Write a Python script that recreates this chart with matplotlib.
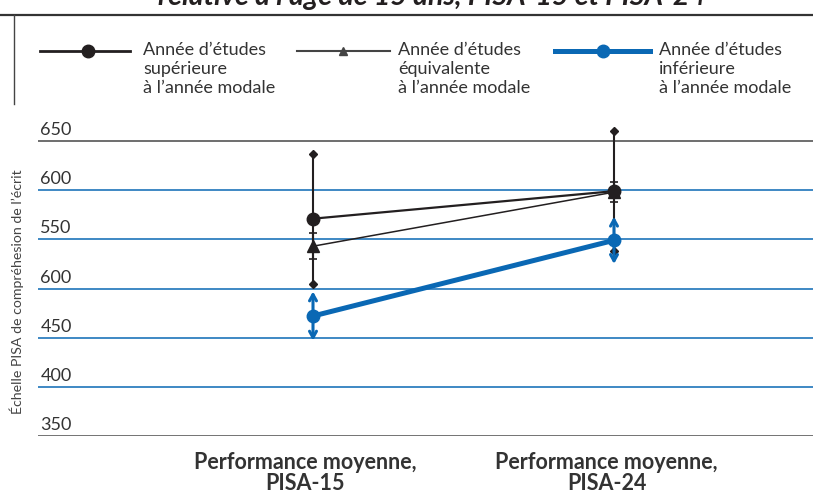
import matplotlib
matplotlib.use("Agg")
import matplotlib.pyplot as plt
from matplotlib.lines import Line2D
import matplotlib.transforms as mtransforms

# ---- data ----
categories = ["Performance moyenne,\nPISA-15", "Performance moyenne,\nPISA-24"]
sup_vals = [571, 599]
sup_err = [66, 61]
equ_vals = [543, 598]
equ_err = [13, 10]
inf_vals = [472, 549]
inf_err = [25, 24]
ytick_values = [650, 600, 550, 500, 450, 400, 350]
ytick_labels = ["650", "600", "550", "600", "450", "400", "350"]
legend_labels = ["Année d’études\nsupérieure\nà l’année modale",
                 "Année d’études\néquivalente\nà l’année modale",
                 "Année d’études\ninférieure\nà l’année modale"]
title = "relative à l’âge de 15 ans, PISA-15 et PISA-24"
ylabel = "Échelle PISA de compréhesion de l’écrit"

FONT = ["Lato", "DejaVu Sans"]
plt.rcParams["font.family"] = FONT
BLUE = "#0a68b4"
BLACK = "#231f20"
TXT = "#333333"

W, H = 813, 494
fig = plt.figure(figsize=(W / 100, H / 100), dpi=100)

# axes geometry in pixels
y_bot_px, y_top_px = 436, 141   # 350 and 650
ppu = (y_bot_px - y_top_px) / 300.0
ymin, ymax = 350, 680
ax_top_px = y_bot_px - (ymax - ymin) * ppu
x0_px, x1_px = 313, 614
left_px = 38
xppu = x1_px - x0_px
ax = fig.add_axes([left_px / W, 1 - y_bot_px / H, (W - left_px) / W, (y_bot_px - ax_top_px) / H])
ax.set_ylim(ymin, ymax)
ax.set_xlim((left_px - x0_px) / xppu, (W - x0_px) / xppu)
for s in ax.spines.values():
    s.set_visible(False)
ax.set_xticks([])
ax.set_yticks([])
ax.patch.set_alpha(0)

# grid lines
for v in ytick_values:
    if v == 650:
        ax.axhline(v, color="#555555", lw=1.2, zorder=1)
    elif v == 350:
        ax.axhline(v, color="#666666", lw=2.0, zorder=1)
    else:
        ax.axhline(v, color=BLUE, lw=1.1, zorder=1)

# y tick labels (sit above lines)
tr = mtransforms.blended_transform_factory(ax.transAxes, ax.transData)
for v, lab in zip(ytick_values, ytick_labels):
    ax.text(0.003, v + 3, lab, transform=tr, ha="left", va="bottom",
            fontsize=13, color=TXT)

x = [0, 1]
# error bars: supérieure (diamond ends)
for xi, v, e in zip(x, sup_vals, sup_err):
    ax.plot([xi, xi], [v - e, v + e], color=BLACK, lw=1.5, zorder=3)
    ax.plot([xi, xi], [v - e, v + e], ls="none", marker="D", ms=4, color=BLACK, zorder=3)
# équivalente (small caps)
ax.errorbar(x, equ_vals, yerr=equ_err, fmt="none", ecolor=BLACK, elinewidth=1.5,
            capsize=3, capthick=1.2, zorder=3)
# inférieure (arrows)
for xi, v, e in zip(x, inf_vals, inf_err):
    for end in (v + e, v - e):
        ax.annotate("", xy=(xi, end), xytext=(xi, v),
                    arrowprops=dict(arrowstyle="->,head_length=0.45,head_width=0.25",
                                    color=BLUE, lw=2.2, shrinkA=0, shrinkB=0),
                    zorder=4)

# series lines
ax.plot(x, equ_vals, color=BLACK, lw=1.1, marker="^", ms=8, zorder=5)
ax.plot(x, sup_vals, color=BLACK, lw=1.6, marker="o", ms=9, zorder=6)
ax.plot(x, inf_vals, color=BLUE, lw=3.6, marker="o", ms=9, zorder=6)

# x labels
for xi, lab in zip(x, categories):
    ax.text(xi - 0.025, ymin - 16, lab, ha="center", va="top", fontsize=15.5,
            fontweight="bold", color=TXT, linespacing=1.0)

# y label
fig.text(17 / W, 1 - 292 / H, ylabel, rotation=90, ha="center", va="center",
         fontsize=10.2, color="#444444")

# title (cut at top)
fig.text(432 / W, 1 - 5.5 / H, title, ha="center", va="baseline", fontsize=20.5,
         fontweight="bold", fontstyle="italic", color=BLACK)

# frame lines at top
fig.add_artist(Line2D([0, 1], [1 - 15 / H, 1 - 15 / H], color="#333333", lw=1.6,
                      transform=fig.transFigure))
fig.add_artist(Line2D([14 / W, 14 / W], [1 - 15 / H, 1 - 104 / H], color="#444444", lw=1.0,
                      transform=fig.transFigure))

# legend (manual)
legend_specs = [
    dict(x0=40, x1=130, mx=88, color=BLACK, lw=2.0, marker="o", ms=9, tx=143),
    dict(x0=297, x1=390, mx=343, color="#444444", lw=1.5, marker="^", ms=6, tx=398),
    dict(x0=555, x1=650, mx=603, color=BLUE, lw=3.6, marker="o", ms=9, tx=659),
]
ly = 1 - 51 / H
for spec, lab in zip(legend_specs, legend_labels):
    fig.add_artist(Line2D([spec["x0"] / W, spec["x1"] / W], [ly, ly], color=spec["color"],
                          lw=spec["lw"], transform=fig.transFigure))
    fig.add_artist(Line2D([spec["mx"] / W], [ly], color=spec["color"], marker=spec["marker"],
                          ms=spec["ms"], transform=fig.transFigure))
    fig.text(spec["tx"] / W, 1 - 42 / H, lab, ha="left", va="top", fontsize=13,
             color=TXT, linespacing=1.22)

fig.savefig("out.png", dpi=100)
